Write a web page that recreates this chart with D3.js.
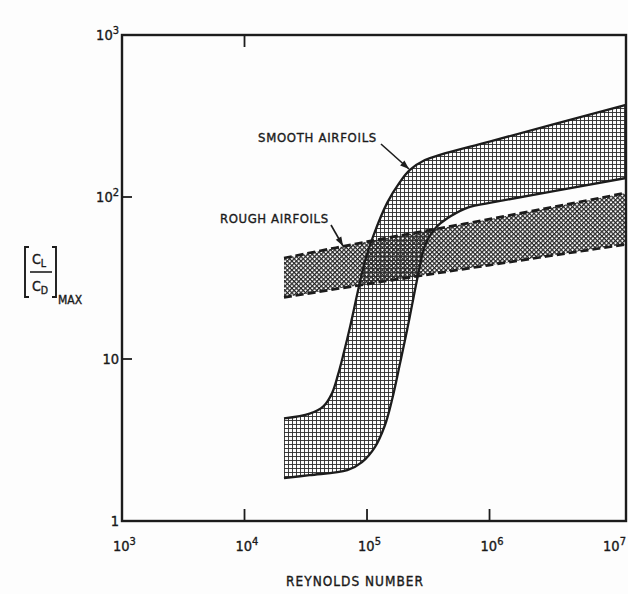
<!DOCTYPE html>
<html>
<head>
<meta charset="utf-8">
<script src="https://cdn.jsdelivr.net/npm/d3@7"></script>
<style>
  html, body { margin: 0; padding: 0; background: #fdfdfd; }
  svg { display: block; }
  text { font-family: "DejaVu Sans Condensed", "DejaVu Sans", sans-serif; fill: #1a1a1a; stroke: #1a1a1a; stroke-width: 0.35; }
</style>
</head>
<body>
<svg id="chart" width="628" height="594"></svg>
<script>
// Maximum lift-to-drag ratio versus Reynolds number for smooth and rough airfoils.

// Smooth airfoils: upper and lower envelope of the band
const smoothUpperRe = [2.1e4, 3.4e4, 4.4e4, 5.2e4, 5.8e4, 6.4e4, 7.3e4, 8.5e4, 9.6e4, 1.12e5, 1.46e5, 1.86e5, 2.24e5, 2.97e5, 3.94e5, 1.0e6, 1.3e7];
const smoothUpperLD = [4.3, 4.6, 5.1, 6.2, 8.0, 10.6, 16, 27, 40, 57, 92, 124, 147, 169, 182, 220, 370];
const smoothLowerRe = [2.1e4, 3.4e4, 6.9e4, 9.1e4, 1.16e5, 1.40e5, 1.60e5, 1.86e5, 2.12e5, 2.33e5, 2.61e5, 2.97e5, 3.6e5, 4.8e5, 6.9e5, 1.0e6, 1.3e7];
const smoothLowerLD = [1.84, 1.92, 2.06, 2.31, 2.86, 3.9, 5.6, 9.4, 15, 21.5, 33, 50, 64, 76, 87, 92, 131];

// Rough airfoils: upper and lower envelope of the band
const roughRe = [2.1e4, 1e5, 1e6, 1.3e7];
const roughUpperLD = [42, 53, 73, 106];
const roughLowerLD = [24, 29, 38, 51];

// Axis ticks
const xTickExps = [3, 4, 5, 6, 7];
const yTickLabels = [
  { v: 1, base: "1", sup: "" },
  { v: 10, base: "10", sup: "" },
  { v: 100, base: "10", sup: "2" },
  { v: 1000, base: "10", sup: "3" }
];

const svg = d3.select("#chart");
const plotLeft = 122, plotRight = 626, plotTop = 35, plotBottom = 521;

const x = d3.scaleLog().domain([1e3, 1.3e7]).range([plotLeft, plotRight]);
const y = d3.scaleLog().domain([1, 1000]).range([plotBottom, plotTop]);

const ink = "#1c1c1c";

// Hatch patterns
const defs = svg.append("defs");
const grid = defs.append("pattern")
  .attr("id", "gridHatch").attr("patternUnits", "userSpaceOnUse")
  .attr("width", 4).attr("height", 4);
grid.append("path").attr("d", "M0,0.5H4M0.5,0V4")
  .attr("stroke", "#2a2a2a").attr("stroke-width", 0.9).attr("fill", "none");

const cross = defs.append("pattern")
  .attr("id", "crossHatch").attr("patternUnits", "userSpaceOnUse")
  .attr("width", 3.2).attr("height", 3.2)
  .attr("patternTransform", "rotate(45)");
cross.append("path").attr("d", "M0,0.6H3.2M0.6,0V3.2")
  .attr("stroke", "#262626").attr("stroke-width", 1.25).attr("fill", "none");

const pts = (res, vals) => res.map((r, i) => [x(r), y(vals[i])]);
const line = d3.line().curve(d3.curveCatmullRom.alpha(0.5));

function bandPath(upper, lower) {
  const up = line(upper);
  const lowRev = line(lower.slice().reverse());
  return up + "L" + lowRev.slice(1) + "Z";
}

const sU = pts(smoothUpperRe, smoothUpperLD);
const sL = pts(smoothLowerRe, smoothLowerLD);
const rU = pts(roughRe, roughUpperLD);
const rL = pts(roughRe, roughLowerLD);

const plot = svg.append("g");

// Rough band fill
plot.append("path").attr("d", bandPath(rU, rL)).attr("fill", "url(#crossHatch)");
// Smooth band fill
plot.append("path").attr("d", bandPath(sU, sL)).attr("fill", "url(#gridHatch)");

// Smooth edges (solid)
[sU, sL].forEach(p => plot.append("path").attr("d", line(p))
  .attr("fill", "none").attr("stroke", ink).attr("stroke-width", 2.3));

// Rough edges (dashed)
[rU, rL].forEach(p => plot.append("path").attr("d", line(p))
  .attr("fill", "none").attr("stroke", ink).attr("stroke-width", 2.7)
  .attr("stroke-dasharray", "8,4"));

// Frame
svg.append("rect").attr("x", plotLeft).attr("y", plotTop)
  .attr("width", plotRight - plotLeft).attr("height", plotBottom - plotTop)
  .attr("fill", "none").attr("stroke", ink).attr("stroke-width", 2.4);

// Tick marks
[1e4, 1e5, 1e6].forEach(v => svg.append("line")
  .attr("x1", x(v)).attr("x2", x(v)).attr("y1", plotBottom).attr("y2", plotBottom - 12)
  .attr("stroke", ink).attr("stroke-width", 1.8));
svg.append("line").attr("x1", x(1e4)).attr("x2", x(1e4)).attr("y1", plotTop).attr("y2", plotTop + 12)
  .attr("stroke", ink).attr("stroke-width", 1.8);
[10, 100].forEach(v => svg.append("line")
  .attr("x1", plotLeft).attr("x2", plotLeft + 10).attr("y1", y(v)).attr("y2", y(v))
  .attr("stroke", ink).attr("stroke-width", 1.8));

// X tick labels
xTickExps.forEach(e => {
  const t = svg.append("text").attr("x", x(Math.pow(10, e)) - 9).attr("y", 551)
    .attr("font-size", 14.5);
  t.append("tspan").text("10");
  t.append("tspan").attr("dy", -6).attr("font-size", 11).text(e);
});

// Y tick labels
yTickLabels.forEach(d => {
  const t = svg.append("text").attr("x", 119).attr("y", y(d.v) + 5)
    .attr("font-size", 14.5).attr("text-anchor", "end");
  t.append("tspan").text(d.base);
  if (d.sup) t.append("tspan").attr("dy", -6).attr("font-size", 11).text(d.sup);
});

// X axis title
svg.append("text").attr("x", 355).attr("y", 586).attr("text-anchor", "middle")
  .attr("font-size", 13.5).attr("letter-spacing", 1).text("REYNOLDS  NUMBER");

// Y axis title: [CL / CD]max
const yt = svg.append("g");
yt.append("path").attr("d", "M29,247H25V297H29").attr("fill", "none")
  .attr("stroke", ink).attr("stroke-width", 1.9);
yt.append("path").attr("d", "M52,247H56V297H52").attr("fill", "none")
  .attr("stroke", ink).attr("stroke-width", 1.9);
yt.append("line").attr("x1", 30).attr("x2", 52).attr("y1", 272).attr("y2", 272)
  .attr("stroke", ink).attr("stroke-width", 1.6);
const cl = yt.append("text").attr("x", 32).attr("y", 264).attr("font-size", 14);
cl.append("tspan").text("C");
cl.append("tspan").attr("dy", 3).attr("font-size", 10.5).text("L");
const cd = yt.append("text").attr("x", 32).attr("y", 291).attr("font-size", 14);
cd.append("tspan").text("C");
cd.append("tspan").attr("dy", 3).attr("font-size", 10.5).text("D");
yt.append("text").attr("x", 58).attr("y", 304).attr("font-size", 12).text("MAX");

// Band labels with arrows
svg.append("text").attr("x", 258).attr("y", 142).attr("font-size", 13)
  .attr("letter-spacing", 0.7).text("SMOOTH  AIRFOILS");
svg.append("text").attr("x", 220).attr("y", 223).attr("font-size", 13)
  .attr("letter-spacing", 0.6).text("ROUGH  AIRFOILS");

function arrow(x1, y1, x2, y2) {
  const g = svg.append("g");
  g.append("line").attr("x1", x1).attr("y1", y1).attr("x2", x2).attr("y2", y2)
    .attr("stroke", ink).attr("stroke-width", 1.6);
  const a = Math.atan2(y2 - y1, x2 - x1), L = 9, W = 3.2;
  const bx = x2 - L * Math.cos(a), by = y2 - L * Math.sin(a);
  const px = -Math.sin(a) * W, py = Math.cos(a) * W;
  g.append("path").attr("d", `M${x2},${y2}L${bx + px},${by + py}L${bx - px},${by - py}Z`)
    .attr("fill", ink);
}
arrow(381, 144, 409, 169);
arrow(331, 225, 343, 246);
</script>
</body>
</html>
